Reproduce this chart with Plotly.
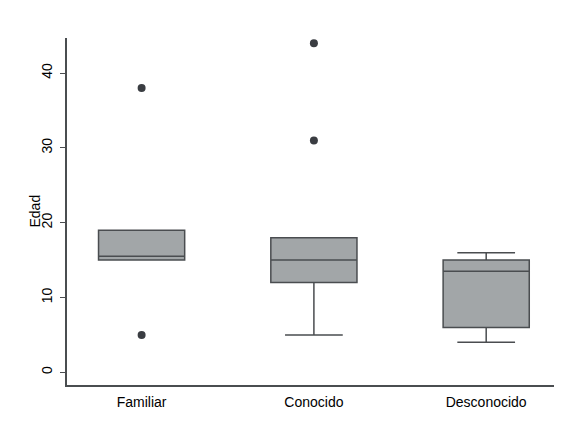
import plotly.graph_objects as go

categories = ["Familiar", "Conocido", "Desconocido"]
positions = [0, 1, 2]
q1 = [15, 12, 6]
median = [15.5, 15, 13.5]
q3 = [19, 18, 15]
lower_whisker = [15, 5, 4]
upper_whisker = [19, 18, 16]
outlier_x = [0, 0, 1, 1]
outlier_y = [38, 5, 44, 31]
y_ticks = [0, 10, 20, 30, 40]

fig = go.Figure()
fig.add_trace(go.Box(
    x=positions, q1=q1, median=median, q3=q3,
    lowerfence=lower_whisker, upperfence=upper_whisker,
    width=0.5, whiskerwidth=0.67,
    fillcolor="#A2A6A8",
    line=dict(color="#4A4D50", width=1.5),
    boxpoints=False, showlegend=False, hoverinfo="skip",
))
fig.add_trace(go.Scatter(
    x=outlier_x, y=outlier_y, mode="markers",
    marker=dict(color="#3A3D42", size=8),
    showlegend=False, hoverinfo="skip",
))

font = dict(family="Liberation Sans, Arial, sans-serif", size=14, color="#000000")
fig.update_layout(
    width=554, height=413,
    margin=dict(l=59, r=0, t=30, b=36),
    paper_bgcolor="white", plot_bgcolor="white",
    font=font,
    xaxis=dict(
        range=[-0.433, 2.44],
        tickmode="array", tickvals=positions, ticktext=categories,
        showgrid=False, zeroline=False,
        showline=True, linecolor="#4A4D50", linewidth=1.5,
        ticks="", ticklabelstandoff=3, automargin=False,
    ),
    yaxis=dict(
        range=[-1.7, 44.7],
        tickmode="array", tickvals=y_ticks,
        tickangle=-90,
        showgrid=False, zeroline=False,
        showline=True, linecolor="#4A4D50", linewidth=1.5,
        ticks="outside", ticklen=5, tickcolor="#4A4D50", tickwidth=1.2,
        ticklabelstandoff=3, automargin=False,
    ),
    annotations=[dict(
        text="Edad", textangle=-90, showarrow=False,
        xref="paper", yref="paper", x=0, y=0.5,
        xanchor="center", yanchor="middle", xshift=-33,
        font=font,
    )],
)
fig.write_html("out.html")
